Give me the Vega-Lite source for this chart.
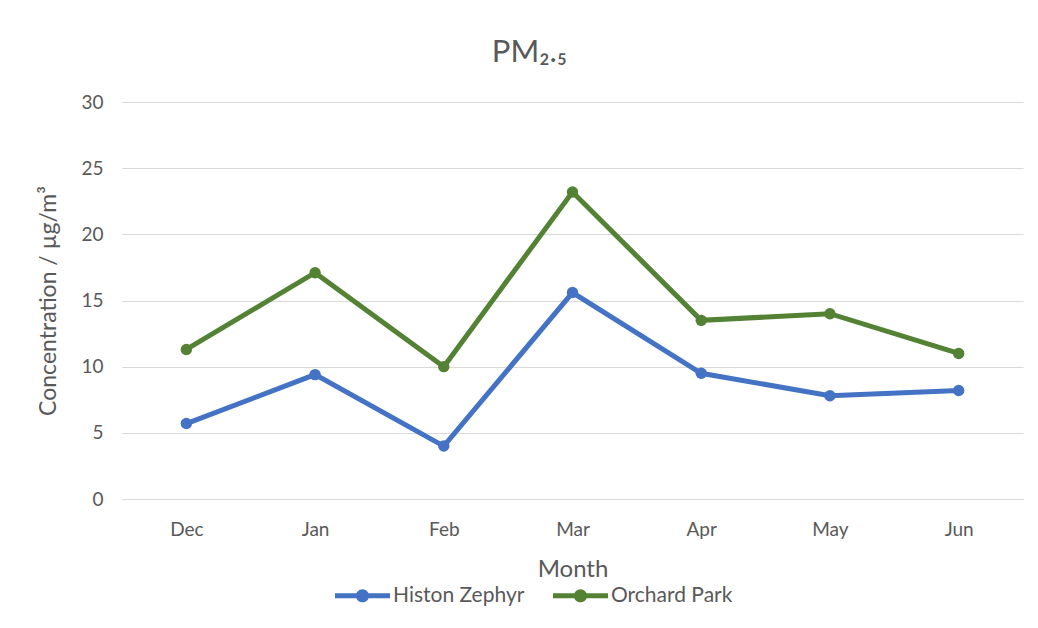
{
  "$schema": "https://vega.github.io/schema/vega-lite/v6.json",
  "autosize": "none",
  "width": 901,
  "height": 397,
  "padding": {"left": 122, "top": 102, "right": 15, "bottom": 129},
  "background": "white",
  "title": {"text": "PM₂.₅", "font": "Lato", "fontSize": 31, "fontWeight": "normal", "color": "#595959", "anchor": "middle", "dx": -43, "offset": 24},
  "data": {"values": [
    {"month": "Dec", "site": "Histon Zephyr", "value": 5.7},
    {"month": "Jan", "site": "Histon Zephyr", "value": 9.4},
    {"month": "Feb", "site": "Histon Zephyr", "value": 4.0},
    {"month": "Mar", "site": "Histon Zephyr", "value": 15.6},
    {"month": "Apr", "site": "Histon Zephyr", "value": 9.5},
    {"month": "May", "site": "Histon Zephyr", "value": 7.8},
    {"month": "Jun", "site": "Histon Zephyr", "value": 8.2},
    {"month": "Dec", "site": "Orchard Park", "value": 11.3},
    {"month": "Jan", "site": "Orchard Park", "value": 17.1},
    {"month": "Feb", "site": "Orchard Park", "value": 10.0},
    {"month": "Mar", "site": "Orchard Park", "value": 23.2},
    {"month": "Apr", "site": "Orchard Park", "value": 13.5},
    {"month": "May", "site": "Orchard Park", "value": 14.0},
    {"month": "Jun", "site": "Orchard Park", "value": 11.0}
  ]},
  "mark": {"type": "line", "strokeWidth": 5, "point": {"size": 130, "filled": true, "opacity": 1}},
  "encoding": {
    "x": {"field": "month", "type": "ordinal", "sort": ["Dec", "Jan", "Feb", "Mar", "Apr", "May", "Jun"], "title": "Month",
      "scale": {"type": "point", "padding": 0.5},
      "axis": {"labelAngle": 0, "ticks": false, "domain": true, "domainColor": "#d9d9d9", "grid": false, "labelPadding": 21, "labelFontSize": 19, "labelColor": "#595959", "labelFont": "Lato", "titleFont": "Lato", "titleFontSize": 24, "titleFontWeight": "normal", "titleColor": "#595959", "titlePadding": 18}},
    "y": {"field": "value", "type": "quantitative", "title": "Concentration / µg/m³",
      "scale": {"domain": [0, 30]},
      "axis": {"values": [0, 5, 10, 15, 20, 25, 30], "ticks": false, "domain": false, "grid": true, "gridColor": "#d9d9d9", "gridWidth": 1.2, "labelPadding": 19, "labelFontSize": 19, "labelColor": "#595959", "labelFont": "Lato", "titleFont": "Lato", "titleFontSize": 23, "titleFontWeight": "normal", "titleColor": "#595959", "titlePadding": 20}},
    "color": {"field": "site", "type": "nominal", "title": null,
      "scale": {"domain": ["Histon Zephyr", "Orchard Park"], "range": ["#4472C4", "#548235"]},
      "legend": {"orient": "none", "direction": "horizontal", "legendX": 213, "legendY": 466, "labelFont": "Lato", "labelFontSize": 21, "labelColor": "#595959", "symbolType": "M-1,-0.09H1V0.09H-1Z M-0.24,0A0.24,0.24 0 1,1 0.24,0A0.24,0.24 0 1,1 -0.24,0Z", "symbolSize": 3025, "symbolStrokeWidth": 0, "symbolOpacity": 1, "labelOffset": 3, "columnPadding": 28}}
  },
  "config": {"view": {"stroke": null}}
}
